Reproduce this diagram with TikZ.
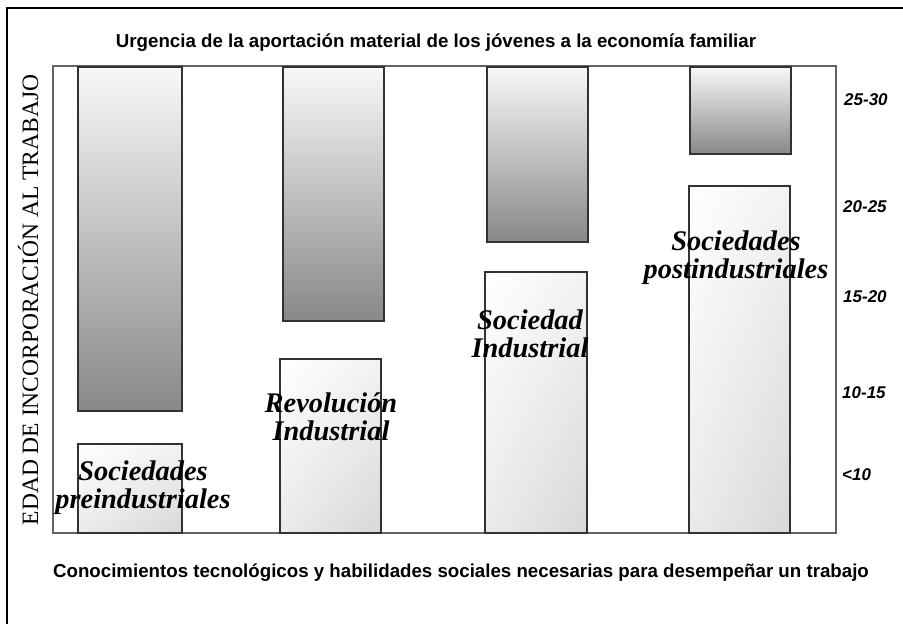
\documentclass[tikz,border=0pt]{standalone}
\usepackage{fontspec}
\setmainfont{Liberation Serif}
\setsansfont{Liberation Sans}
\usepackage{xcolor}
\usepackage{tikz}
\usetikzlibrary{shadings}
\definecolor{barline}{RGB}{50, 50, 50}
\definecolor{framegray}{RGB}{100, 100, 100}
\definecolor{bartop}{RGB}{248, 248, 248}
\definecolor{barbottom}{RGB}{136, 136, 136}
\definecolor{paleend}{RGB}{216, 216, 216}

\begin{document}
\begin{tikzpicture}[x=1pt, y=-1pt,
        upbar/.style = {draw=barline, line width=1.2pt, top color=bartop, bottom color=barbottom},
        lowbar/.style = {draw=barline, line width=1.2pt, upper left=white, upper right=black!5, lower left=black!8, lower right=paleend},
        era/.style = {font=\fontsize{28.4}{28}\selectfont\bfseries\itshape, align=center, inner sep=0pt, anchor=base},
        age/.style = {font=\fontsize{17}{17}\selectfont\sffamily\bfseries\itshape, inner sep=0pt, anchor=base west},
        caption/.style = {font=\fontsize{18.7}{19}\selectfont\sffamily\bfseries, inner sep=0pt, anchor=base}]
    \useasboundingbox (0,0) rectangle (903,624);
    \draw[line width=2pt] (7,624) -- (7,8) -- (903,8);
    \draw[framegray, line width=1.2pt] (53,66) rectangle (836,533);
    \foreach \l/\r/\b in {78/182/411, 283/384/321, 487/588/242, 690/791/154}
        \draw[upbar] (\l,67) rectangle (\r,\b);
    \foreach \l/\r/\t in {78/182/444, 280/381/359, 485/587/272, 689/790/186}
        \draw[lowbar] (\l,\t) rectangle (\r,533);
    \node[caption] (title) at (436,47) {Urgencia de la aportación material de los jóvenes a la economía familiar};
    \node[caption] (xlabel) at (461,577) {Conocimientos tecnológicos y habilidades sociales necesarias para desempeñar un trabajo};
    \node[rotate=90, inner sep=0pt, anchor=base, font=\fontsize{23.5}{24}\selectfont] (ylabel) at (38,300) {EDAD DE INCORPORACIÓN AL TRABAJO};
    \node[era] (pre) at (143,508) {Sociedades\\preindustriales};
    \node[era] (rev) at (331,440) {Revolución\\Industrial};
    \node[era] (ind) at (530,357) {Sociedad\\Industrial};
    \node[era] (post) at (736,278) {Sociedades\\postindustriales};
    \node[age] (a1) at (844,105) {25-30};
    \node[age] (a2) at (843,212) {20-25};
    \node[age] (a3) at (843,302) {15-20};
    \node[age] (a4) at (842,398) {10-15};
    \node[age] (a5) at (842,480) {<10};
\end{tikzpicture}
\end{document}
